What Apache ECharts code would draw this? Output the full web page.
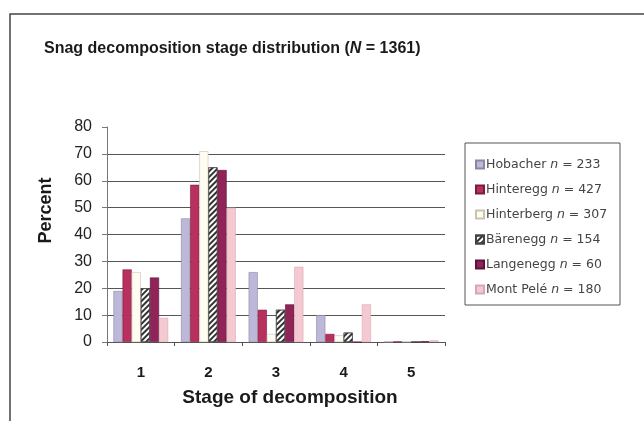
<!DOCTYPE html>
<html lang="en">
<head>
    <meta charset="UTF-8">
    <title>Snag decomposition</title>
    <script type="text/javascript" src="https://cdn.jsdelivr.net/npm/echarts@6/dist/echarts.min.js"></script>
    <style>
        html, body { margin: 0; padding: 0; background: #fff; }
    </style>
</head>
<body>
<div id="snag" style="width:644px; height:421px;"></div>
<script>
    // decomposition stages (x axis)
    var stages = ['1', '2', '3', '4', '5'];
    // sites and their sample size
    var sites = ['Hobacher', 'Hinteregg', 'Hinterberg', 'Bärenegg', 'Langenegg', 'Mont Pelé'];
    var siteN = [233, 427, 307, 154, 60, 180];
    // percent per stage, one array per site
    var hobacher   = [19, 46, 26, 10, 0];
    var hinteregg  = [27, 58.5, 12, 3, 0.2];
    var hinterberg = [26, 71, 3, 2.5, 0.2];
    var barenegg   = [20, 65, 12, 3.5, 0];
    var langenegg  = [24, 64, 14, 0, 0.3];
    var montpele   = [9, 50, 28, 14, 0.6];
    var yTicks = [0, 10, 20, 30, 40, 50, 60, 70, 80];

    var chart = echarts.init(document.getElementById('snag'));

    var styles = [
        {color: '#bdb8d8', borderColor: '#8a86a8', borderWidth: 0.6},
        {color: '#b8305e', borderColor: '#7a1c3c', borderWidth: 0.6},
        {color: '#fffdf2', borderColor: '#c8c4b0', borderWidth: 0.6},
        {color: '#ffffff', borderColor: '#444', borderWidth: 0.6,
            decal: {symbol: 'rect', symbolSize: 1, dashArrayX: [1, 0], dashArrayY: [2, 2],
                rotation: -Math.PI / 4, color: '#333'}},
        {color: '#8e2458', borderColor: '#5e1238', borderWidth: 0.6},
        {color: '#f5c9d2', borderColor: '#d8a8b2', borderWidth: 0.6}
    ];
    var values = [hobacher, hinteregg, hinterberg, barenegg, langenegg, montpele];

    var series = [];
    for (var i = 0; i < sites.length; i++) {
        series.push({
            name: sites[i],
            type: 'bar',
            data: values[i],
            itemStyle: styles[i],
            barGap: '0%',
            barCategoryGap: '19%',
            animation: false
        });
    }

    var gridColors = [];
    for (var k = 0; k < yTicks.length; k++) {
        gridColors.push(k === yTicks.length - 1 ? 'rgba(0,0,0,0)' : '#555');
    }

    var option = {
        animation: false,
        textStyle: {fontFamily: 'Liberation Sans, Arial, sans-serif'},
        title: {
            text: 'Snag decomposition stage distribution ({i|N} = 1361)',
            left: 39,
            top: 36,
            textStyle: {
                fontSize: 16, fontWeight: 'bold', color: '#1a1a1a',
                rich: {i: {fontSize: 16, fontWeight: 'bold', fontStyle: 'italic', color: '#1a1a1a'}}
            }
        },
        graphic: [
            {type: 'rect', shape: {x: 10, y: 14, width: 700, height: 500},
                style: {fill: 'none', stroke: '#444', lineWidth: 1.5}, silent: true},
            {type: 'rect', shape: {x: 465, y: 143, width: 155, height: 162},
                style: {fill: '#fff', stroke: '#555', lineWidth: 1}, z: -1, silent: true}
        ],
        legend: {
            orient: 'vertical',
            left: 470,
            top: 153,
            itemWidth: 8,
            itemHeight: 8,
            itemGap: 12,
            icon: 'rect',
            data: sites,
            formatter: function (name) {
                return name + ' {i|n} = ' + siteN[sites.indexOf(name)];
            },
            textStyle: {
                fontFamily: 'DejaVu Sans, sans-serif',
                fontSize: 12.5, color: '#444', padding: [0, 0, 0, -3],
                rich: {i: {fontFamily: 'DejaVu Sans, sans-serif', fontSize: 12.5, fontStyle: 'italic', color: '#444'}}
            }
        },
        grid: {left: 107, right: 199, top: 127, bottom: 79},
        xAxis: {
            type: 'category',
            data: stages,
            name: 'Stage of decomposition',
            nameLocation: 'middle',
            nameGap: 46,
            nameTextStyle: {fontSize: 19, fontWeight: 'bold', color: '#1a1a1a', padding: [0, 0, 0, 28]},
            axisLine: {lineStyle: {color: '#555', width: 1}},
            axisTick: {show: true, length: 4, lineStyle: {color: '#555'}},
            axisLabel: {fontSize: 15, fontWeight: 'bold', color: '#1a1a1a', margin: 23}
        },
        yAxis: {
            type: 'value',
            min: 0,
            max: 80,
            interval: 10,
            name: 'Percent',
            nameLocation: 'middle',
            nameRotate: 90,
            nameGap: 52,
            nameTextStyle: {fontSize: 18, fontWeight: 'bold', color: '#1a1a1a', padding: [0, 0, 0, 48]},
            axisLine: {show: true, lineStyle: {color: '#777', width: 1}},
            axisTick: {show: true, length: 5, lineStyle: {color: '#777'}},
            axisLabel: {fontSize: 16, color: '#222', margin: 15},
            splitLine: {show: true, lineStyle: {color: gridColors, width: 1}}
        },
        series: series
    };
    chart.setOption(option);
</script>
</body>
</html>
